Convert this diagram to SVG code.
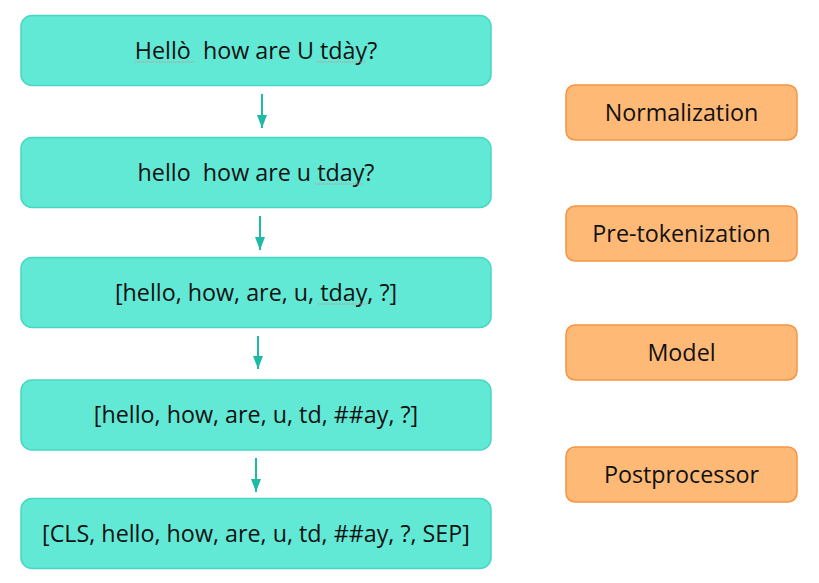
<svg xmlns="http://www.w3.org/2000/svg" width="819" height="583" viewBox="0 0 819 583">
<style>
.step{fill:#61E9D6;stroke:#45D8C4;stroke-width:1.5}
.stage{fill:#FDB975;stroke:#F79443;stroke-width:1.5}
.t{font-family:"Open Sans","Noto Sans",sans-serif;font-size:23.3px;fill:#111;text-anchor:middle;white-space:pre}
.conn{stroke:#1DBBA6;stroke-width:2;fill:none}
.sq{stroke:#D98A8A;stroke-width:0.9;fill:none;stroke-dasharray:1.2 0.8}
</style>
<defs>
<marker id="ah" viewBox="0 0 13 10" refX="13" refY="5" markerWidth="13" markerHeight="10" markerUnits="userSpaceOnUse" orient="auto">
<path d="M0,0 L13,5 L0,10 z" fill="#1DBBA6"/>
</marker>
</defs>
<rect width="819" height="583" fill="#fff"/>
<g id="connectors">
<line class="conn" x1="262" y1="94" x2="262" y2="128" marker-end="url(#ah)"/>
<line class="conn" x1="260" y1="216" x2="260" y2="250" marker-end="url(#ah)"/>
<line class="conn" x1="258" y1="336" x2="258" y2="369" marker-end="url(#ah)"/>
<line class="conn" x1="256" y1="458" x2="256" y2="492" marker-end="url(#ah)"/>
</g>
<g id="step1"><rect class="step" x="21" y="15.5" width="470" height="70" rx="11"/><text class="t" x="256" y="59" xml:space="preserve">Hellò  how are U tdày?</text>
<line class="sq" x1="135" y1="62" x2="194" y2="62"/><line class="sq" x1="316" y1="62" x2="365" y2="62"/></g>
<g id="step2"><rect class="step" x="21" y="137.5" width="470" height="70" rx="11"/><text class="t" x="256" y="181" xml:space="preserve">hello  how are u tday?</text>
<line class="sq" x1="315" y1="184" x2="363" y2="184"/></g>
<g id="step3"><rect class="step" x="21" y="257.5" width="470" height="70" rx="11"/><text class="t" x="256" y="301">[hello, how, are, u, tday, ?]</text>
<line class="sq" x1="318" y1="304" x2="367" y2="304"/></g>
<g id="step4"><rect class="step" x="21" y="380" width="470" height="70" rx="11"/><text class="t" x="256" y="423">[hello, how, are, u, td, ##ay, ?]</text></g>
<g id="step5"><rect class="step" x="21" y="498.5" width="470" height="70" rx="11"/><text class="t" x="256" y="542">[CLS, hello, how, are, u, td, ##ay, ?, SEP]</text></g>
<g id="normalization"><rect class="stage" x="566" y="85" width="231" height="55" rx="9"/><text class="t" x="681.5" y="121">Normalization</text></g>
<g id="pretokenization"><rect class="stage" x="566" y="206" width="231" height="55" rx="9"/><text class="t" x="681.5" y="242">Pre-tokenization</text></g>
<g id="model"><rect class="stage" x="566" y="325" width="231" height="55" rx="9"/><text class="t" x="681.5" y="361">Model</text></g>
<g id="postprocessor"><rect class="stage" x="566" y="447" width="231" height="55" rx="9"/><text class="t" x="681.5" y="483">Postprocessor</text></g>
</svg>
